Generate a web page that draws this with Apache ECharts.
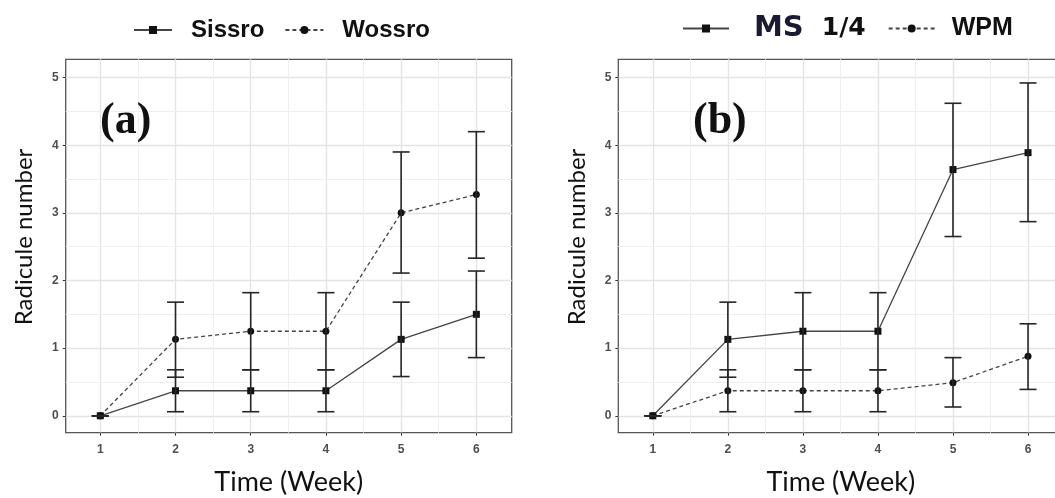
<!DOCTYPE html>
<html>
<head>
<meta charset="utf-8">
<script src="https://cdn.jsdelivr.net/npm/echarts@6/dist/echarts.min.js"></script>
<style>
html, body { margin: 0; padding: 0; background: #fff; }
#main { width: 1055px; height: 498px; }
</style>
</head>
<body>
<div id="main"></div>
<script>
var weeks = [1, 2, 3, 4, 5, 6];
var yTicks = [0, 1, 2, 3, 4, 5];
var minorX = [1.5, 2.5, 3.5, 4.5, 5.5];
var minorY = [0.5, 1.5, 2.5, 3.5, 4.5];

// panel (a)
var sissroMean = [0, 0.37, 0.37, 0.37, 1.13, 1.50];
var sissroLow  = [0, 0.06, 0.06, 0.06, 0.58, 0.86];
var sissroHigh = [0, 0.68, 0.68, 0.68, 1.68, 2.14];
var wossroMean = [0, 1.13, 1.25, 1.25, 3.00, 3.27];
var wossroLow  = [0, 0.57, 0.68, 0.68, 2.11, 2.33];
var wossroHigh = [0, 1.68, 1.82, 1.82, 3.90, 4.20];

// panel (b)
var msMean  = [0, 1.13, 1.25, 1.25, 3.64, 3.89];
var msLow   = [0, 0.57, 0.68, 0.68, 2.65, 2.87];
var msHigh  = [0, 1.68, 1.82, 1.82, 4.62, 4.92];
var wpmMean = [0, 0.37, 0.37, 0.37, 0.49, 0.88];
var wpmLow  = [0, 0.06, 0.06, 0.06, 0.13, 0.39];
var wpmHigh = [0, 0.68, 0.68, 0.68, 0.86, 1.36];

function pairs(mean)
{
    return weeks.map(function(w, i) { return [w, mean[i]]; });
}

function bars(low, high)
{
    return weeks.map(function(w, i) { return [w, low[i], high[i]]; });
}

// error bar with caps
function renderErr(params, api)
{
    var x = api.value(0);
    var lo = api.coord([x, api.value(1)]);
    var hi = api.coord([x, api.value(2)]);
    var hw = 8.5;
    var style = {stroke: '#262626', lineWidth: 1.6, fill: null};
    return {
        type: 'group',
        children: [
            {type: 'line', shape: {x1: lo[0], y1: lo[1], x2: hi[0], y2: hi[1]}, style: style},
            {type: 'line', shape: {x1: lo[0] - hw, y1: lo[1], x2: lo[0] + hw, y2: lo[1]}, style: style},
            {type: 'line', shape: {x1: hi[0] - hw, y1: hi[1], x2: hi[0] + hw, y2: hi[1]}, style: style}
        ]
    };
}

function intLabel(v)
{
    return Math.abs(v - Math.round(v)) < 1e-6 ? String(Math.round(v)) : '';
}

function makeX(gi)
{
    return {
        type: 'value', gridIndex: gi, min: 0.54, max: 6.47, splitNumber: 6,
        name: 'Time (Week)', nameLocation: 'middle', nameGap: 36,
        nameTextStyle: {fontFamily: 'Lato', fontSize: 27, color: '#111'},
        axisLine: {show: false, onZero: false},
        axisTick: {show: true, length: 3, customValues: weeks, lineStyle: {color: '#333'}},
        axisLabel: {margin: 11, color: '#4d4d55', fontSize: 12, fontWeight: 'bold', fontFamily: 'Liberation Sans', customValues: weeks, formatter: intLabel},
        splitLine: {show: true, lineStyle: {color: '#e4e4e4', width: 1.4}}
    };
}

function makeY(gi)
{
    return {
        type: 'value', gridIndex: gi, min: -0.25, max: 5.27, splitNumber: 5,
        name: 'Radicule number', nameLocation: 'middle', nameGap: 29, nameRotate: 90,
        nameTextStyle: {fontFamily: 'Lato', fontSize: 24, color: '#111', padding: [0, 0, 0, 18]},
        axisLine: {show: false, onZero: false},
        axisTick: {show: true, length: 3, customValues: yTicks, lineStyle: {color: '#333'}},
        axisLabel: {margin: 7, color: '#4d4d55', fontSize: 12, fontWeight: 'bold', fontFamily: 'Liberation Sans', customValues: yTicks, formatter: intLabel},
        splitLine: {show: true, lineStyle: {color: '#e4e4e4', width: 1.4}}
    };
}

// invisible carrier for the minor grid lines
function minorGrid(gi)
{
    var lines = minorX.map(function(v) { return {xAxis: v}; })
        .concat(minorY.map(function(v) { return {yAxis: v}; }));
    return {
        type: 'line', xAxisIndex: gi, yAxisIndex: gi, data: [], z: 1, silent: true,
        markLine: {
            silent: true, z: 1, symbol: ['none', 'none'], label: {show: false},
            lineStyle: {color: '#efefef', width: 1, type: 'solid'},
            emphasis: {disabled: true},
            data: lines
        }
    };
}

function lineSeries(name, gi, mean, dashed)
{
    return {
        name: name, type: 'line', xAxisIndex: gi, yAxisIndex: gi,
        data: pairs(mean),
        symbol: dashed ? 'circle' : 'rect',
        symbolSize: 7,
        itemStyle: {color: '#111'},
        lineStyle: {color: '#444', width: 1.3, type: dashed ? [4, 3] : 'solid'},
        z: 3
    };
}

function errSeries(gi, low, high)
{
    return {
        type: 'custom', xAxisIndex: gi, yAxisIndex: gi,
        data: bars(low, high),
        renderItem: renderErr,
        z: 4,
        silent: true
    };
}

var option = {
    backgroundColor: '#fff',
    animation: false,
    title: [
        {text: '(a)', left: 95, top: 95, textStyle: {fontFamily: 'Liberation Serif', fontWeight: 'bold', fontSize: 44, color: '#111'}},
        {text: '(b)', left: 688, top: 95, textStyle: {fontFamily: 'Liberation Serif', fontWeight: 'bold', fontSize: 44, color: '#111'}}
    ],
    legend: [
        {
            data: ['Sissro', 'Wossro'], left: 133, top: 18, padding: 0, itemWidth: 38, itemHeight: 10, itemGap: 20,
            textStyle: {fontFamily: 'Liberation Sans', fontWeight: 'bold', fontSize: 24, color: '#111', padding: [0, 0, 0, 14]}
        },
        {
            data: ['MS 1/4', 'WPM'], left: 682, top: 14, padding: 0, itemWidth: 46, itemHeight: 10, itemGap: 22,
            textStyle: {
                fontFamily: 'Liberation Sans', fontWeight: 'bold', fontSize: 25, color: '#111', padding: [0, 0, 0, 12],
                rich: {
                    ms: {fontFamily: 'DejaVu Sans', fontWeight: 'bold', fontSize: 29, color: '#1a1a33', padding: [0, 0, 0, 8]},
                    q: {fontFamily: 'DejaVu Sans', fontWeight: 'bold', fontSize: 25, color: '#111', padding: [0, 0, 0, 18]}
                }
            },
            formatter: function(name) { return name === 'MS 1/4' ? '{ms|MS}{q|1/4}' : name; }
        }
    ],
    grid: [
        {left: 65.7, top: 59.3, width: 446, height: 373.4, show: true, borderColor: '#555', borderWidth: 1.3, outerBoundsMode: 'none'},
        {left: 618.3, top: 59.3, width: 445, height: 373.4, show: true, borderColor: '#555', borderWidth: 1.3, outerBoundsMode: 'none'}
    ],
    xAxis: [makeX(0), makeX(1)],
    yAxis: [makeY(0), makeY(1)],
    series: [
        minorGrid(0),
        minorGrid(1),
        lineSeries('Sissro', 0, sissroMean, false),
        lineSeries('Wossro', 0, wossroMean, true),
        errSeries(0, sissroLow, sissroHigh),
        errSeries(0, wossroLow, wossroHigh),
        lineSeries('MS 1/4', 1, msMean, false),
        lineSeries('WPM', 1, wpmMean, true),
        errSeries(1, msLow, msHigh),
        errSeries(1, wpmLow, wpmHigh)
    ]
};

var myChart = echarts.init(document.getElementById('main'));
myChart.setOption(option);
</script>
</body>
</html>
